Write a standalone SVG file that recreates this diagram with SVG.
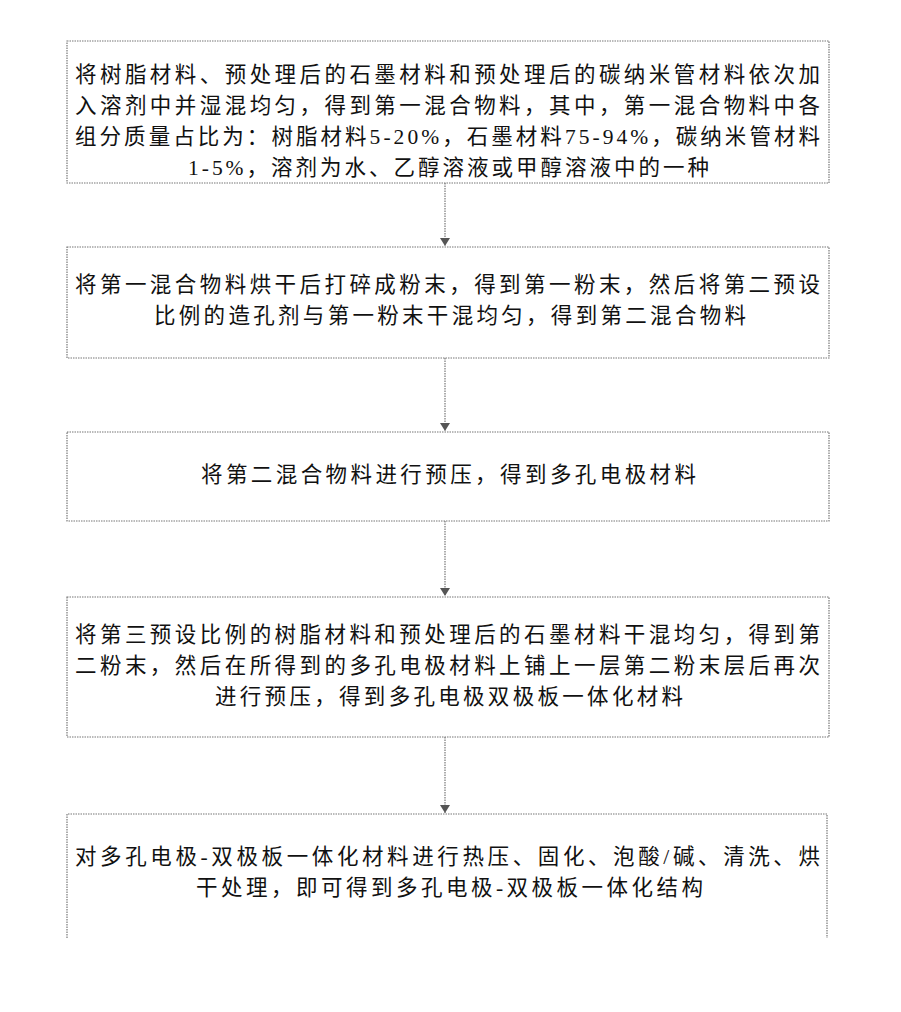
<svg xmlns="http://www.w3.org/2000/svg" width="901" height="1012" viewBox="0 0 901 1012">
<defs>
<style>
.box{fill:none;stroke:#777;stroke-width:1.2;stroke-dasharray:1.5 1}
.t{font-family:"Liberation Serif","Noto Sans CJK SC",serif;font-size:21.5px;fill:#111}
.c{text-anchor:middle}
.con{stroke:#777;stroke-width:1.2;stroke-dasharray:1.5 1;fill:none}
</style>
<marker id="ah" markerWidth="10" markerHeight="10" refX="8" refY="5" orient="auto" markerUnits="userSpaceOnUse"><path d="M0,0 L8,5 L0,10 z" fill="#555"/></marker>
</defs>
<rect width="901" height="1012" fill="#fff"/>
<g id="node1"><rect class="box" x="67" y="41" width="762" height="142"/>
<text class="t" x="75" y="82" textLength="745" lengthAdjust="spacing">将树脂材料、预处理后的石墨材料和预处理后的碳纳米管材料依次加</text>
<text class="t" x="75" y="113" textLength="745" lengthAdjust="spacing">入溶剂中并湿混均匀，得到第一混合物料，其中，第一混合物料中各</text>
<text class="t" x="75" y="144" textLength="745" lengthAdjust="spacing">组分质量占比为：树脂材料5-20%，石墨材料75-94%，碳纳米管材料</text>
<text class="t" x="188" y="175" textLength="521" lengthAdjust="spacing">1-5%，溶剂为水、乙醇溶液或甲醇溶液中的一种</text></g>
<g id="node2"><rect class="box" x="67" y="247" width="762" height="111"/>
<text class="t" x="75" y="292" textLength="745" lengthAdjust="spacing">将第一混合物料烘干后打碎成粉末，得到第一粉末，然后将第二预设</text>
<text class="t" x="154" y="323" textLength="592" lengthAdjust="spacing">比例的造孔剂与第一粉末干混均匀，得到第二混合物料</text></g>
<g id="node3"><rect class="box" x="67" y="432" width="762" height="89"/>
<text class="t" x="201" y="482" textLength="495" lengthAdjust="spacing">将第二混合物料进行预压，得到多孔电极材料</text></g>
<g id="node4"><rect class="box" x="67" y="597" width="762" height="140"/>
<text class="t" x="75" y="642" textLength="745" lengthAdjust="spacing">将第三预设比例的树脂材料和预处理后的石墨材料干混均匀，得到第</text>
<text class="t" x="75" y="673" textLength="745" lengthAdjust="spacing">二粉末，然后在所得到的多孔电极材料上铺上一层第二粉末层后再次</text>
<text class="t" x="215" y="704" textLength="468" lengthAdjust="spacing">进行预压，得到多孔电极双极板一体化材料</text></g>
<g id="node5"><path class="box" d="M67,938 V814 H827 V938"/>
<text class="t" x="75" y="864" textLength="745" lengthAdjust="spacing">对多孔电极-双极板一体化材料进行热压、固化、泡酸/碱、清洗、烘</text>
<text class="t" x="196" y="895" textLength="507" lengthAdjust="spacing">干处理，即可得到多孔电极-双极板一体化结构</text></g>
<g id="connectors">
<line class="con" x1="445" y1="183" x2="445" y2="246" marker-end="url(#ah)"/>
<line class="con" x1="445" y1="358" x2="445" y2="431" marker-end="url(#ah)"/>
<line class="con" x1="445" y1="521" x2="445" y2="596" marker-end="url(#ah)"/>
<line class="con" x1="445" y1="737" x2="445" y2="813" marker-end="url(#ah)"/>
</g>
</svg>
